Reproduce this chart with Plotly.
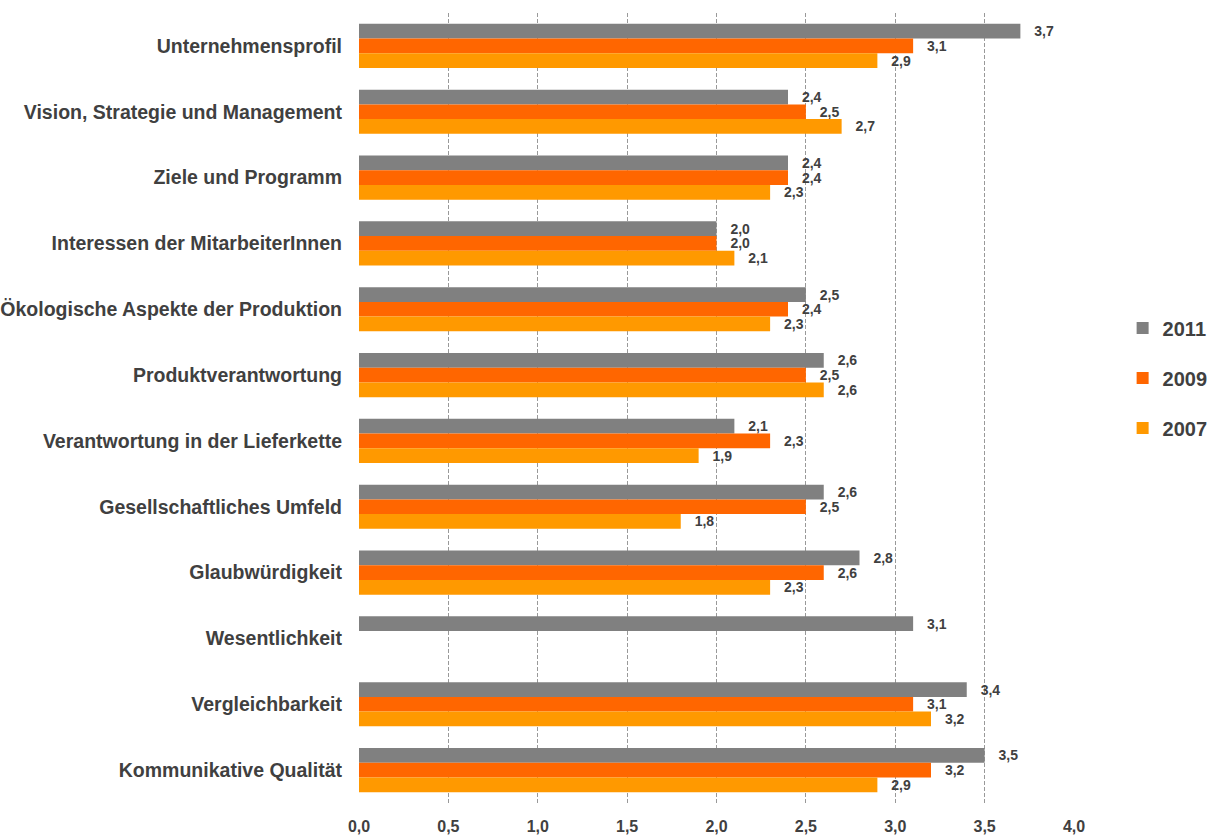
import plotly.graph_objects as go

categories = [
    "Unternehmensprofil",
    "Vision, Strategie und Management",
    "Ziele und Programm",
    "Interessen der MitarbeiterInnen",
    "Ökologische Aspekte der Produktion",
    "Produktverantwortung",
    "Verantwortung in der Lieferkette",
    "Gesellschaftliches Umfeld",
    "Glaubwürdigkeit",
    "Wesentlichkeit",
    "Vergleichbarkeit",
    "Kommunikative Qualität",
]
values_2011 = [3.7, 2.4, 2.4, 2.0, 2.5, 2.6, 2.1, 2.6, 2.8, 3.1, 3.4, 3.5]
values_2009 = [3.1, 2.5, 2.4, 2.0, 2.4, 2.5, 2.3, 2.5, 2.6, None, 3.1, 3.2]
values_2007 = [2.9, 2.7, 2.3, 2.1, 2.3, 2.6, 1.9, 1.8, 2.3, None, 3.2, 2.9]
x_ticks = [0, 0.5, 1.0, 1.5, 2.0, 2.5, 3.0, 3.5, 4.0]

series = [
    ("2011", values_2011, "#808080"),
    ("2009", values_2009, "#FF6600"),
    ("2007", values_2007, "#FF9900"),
]

TEXT = "#404040"
FONT = "Liberation Sans"


def de(v):
    return f"{v:.1f}".replace(".", ",")


fig = go.Figure()
for name, vals, color in series:
    fig.add_trace(go.Bar(
        name=name,
        y=categories,
        x=vals,
        orientation="h",
        marker=dict(color=color, line=dict(width=0)),
        text=[("\u2002\u00a0" + de(v)) if v is not None else "" for v in vals],
        textposition="outside",
        constraintext="none",
        cliponaxis=False,
        textfont=dict(family=FONT, size=14, color=TEXT, weight="bold"),
        legendgroup=name,
    ))

fig.update_layout(
    width=1219,
    height=835,
    barmode="group",
    bargap=0.33,
    bargroupgap=0,
    plot_bgcolor="white",
    paper_bgcolor="white",
    margin=dict(l=359, r=145, t=13, b=32, autoexpand=False),
    font=dict(family=FONT, color=TEXT),
    legend=dict(
        x=1.068, xanchor="left",
        y=0.626, yanchor="top",
        font=dict(family=FONT, size=20, color=TEXT, weight="bold"),
        tracegroupgap=21,
        traceorder="grouped",
        itemwidth=30,
    ),
    showlegend=True,
)

fig.update_xaxes(
    range=[0, 4.0],
    tickvals=x_ticks,
    ticktext=[de(v) for v in x_ticks],
    showgrid=True,
    gridcolor="#999999",
    gridwidth=1,
    griddash="4px,2px",
    zeroline=False,
    showline=False,
    ticks="",
    ticklabelstandoff=12,
    tickfont=dict(family=FONT, size=16, color=TEXT, weight="bold"),
    automargin=False,
)

fig.update_yaxes(
    autorange="reversed",
    showgrid=False,
    zeroline=False,
    showline=False,
    ticks="",
    ticklabelstandoff=16,
    tickfont=dict(family=FONT, size=19.5, color=TEXT, weight="bold"),
    automargin=False,
)

fig.write_html("out.html")
